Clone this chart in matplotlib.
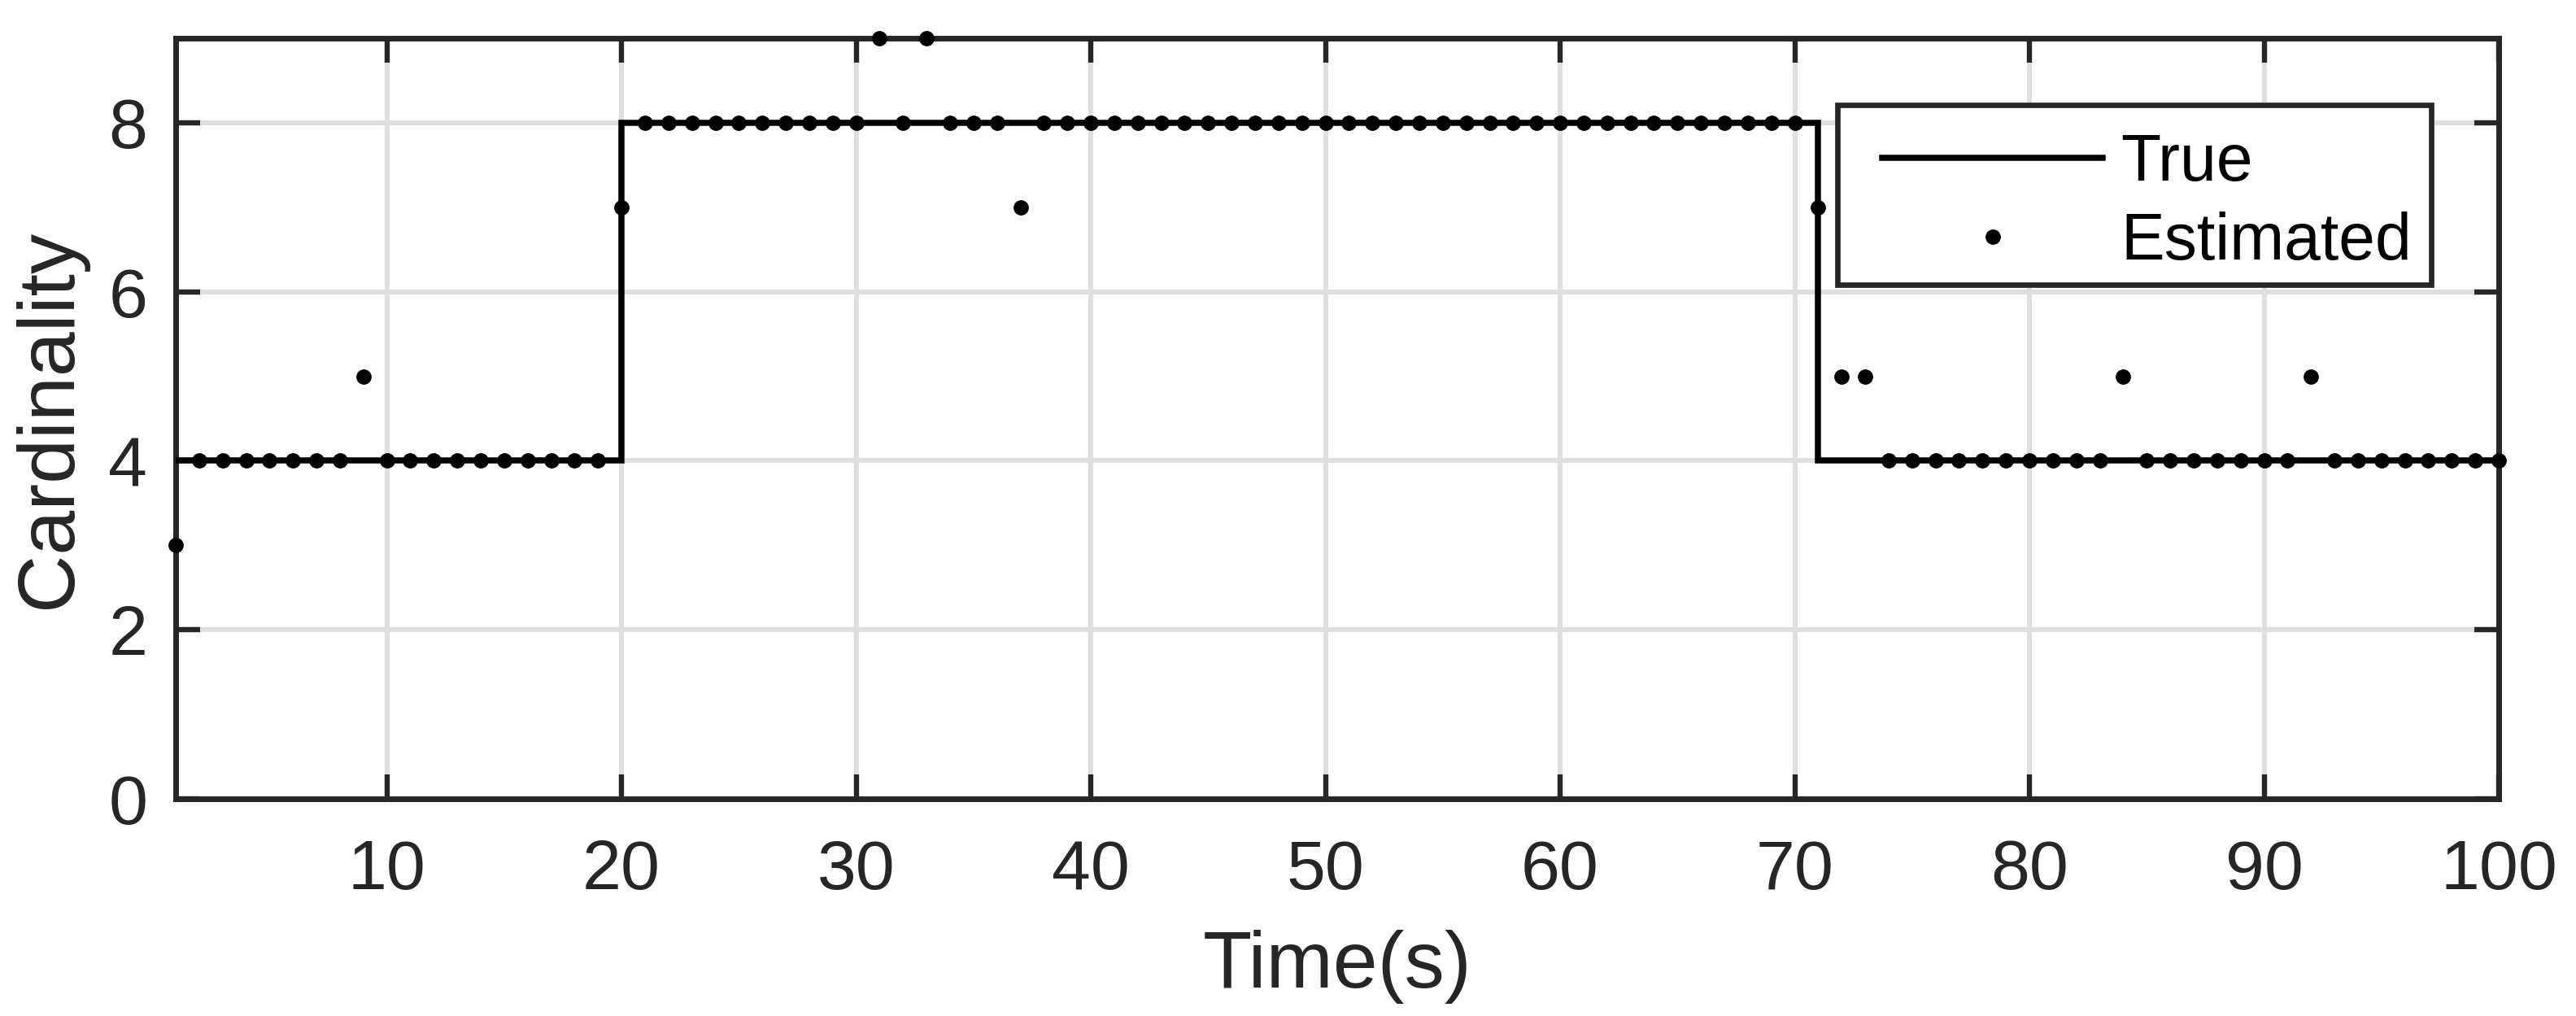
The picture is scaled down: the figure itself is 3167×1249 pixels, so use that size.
import matplotlib
matplotlib.use("Agg")
import matplotlib.pyplot as plt
from matplotlib.lines import Line2D
from matplotlib.patches import Rectangle
from matplotlib.legend_handler import HandlerLine2D

plt.rcParams['font.family'] = ['Liberation Sans', 'DejaVu Sans']

time_s = list(range(1, 101))
true_card = [4, 4, 4, 4, 4, 4, 4, 4, 4, 4, 4, 4, 4, 4, 4, 4, 4, 4, 4,
             8, 8, 8, 8, 8, 8, 8, 8, 8, 8, 8, 8, 8, 8, 8, 8, 8, 8, 8, 8,
             8, 8, 8, 8, 8, 8, 8, 8, 8, 8, 8, 8, 8, 8, 8, 8, 8, 8, 8, 8,
             8, 8, 8, 8, 8, 8, 8, 8, 8, 8, 8,
             4, 4, 4, 4, 4, 4, 4, 4, 4, 4, 4, 4, 4, 4, 4, 4, 4, 4, 4, 4,
             4, 4, 4, 4, 4, 4, 4, 4, 4, 4]
est_card = [3, 4, 4, 4, 4, 4, 4, 4, 5, 4, 4, 4, 4, 4, 4, 4, 4, 4, 4, 7,
            8, 8, 8, 8, 8, 8, 8, 8, 8, 8, 9, 8, 9, 8, 8, 8, 7, 8, 8, 8,
            8, 8, 8, 8, 8, 8, 8, 8, 8, 8, 8, 8, 8, 8, 8, 8, 8, 8, 8, 8,
            8, 8, 8, 8, 8, 8, 8, 8, 8, 8, 7, 5, 5, 4, 4, 4, 4, 4, 4, 4,
            4, 4, 4, 5, 4, 4, 4, 4, 4, 4, 4, 5, 4, 4, 4, 4, 4, 4, 4, 4]
x_ticks = [10, 20, 30, 40, 50, 60, 70, 80, 90, 100]
y_ticks = [0, 2, 4, 6, 8]


class OffsetLineHandler(HandlerLine2D):
    """Line handle that starts a bit to the right inside the handle box."""
    def get_xdata(self, legend, xdescent, ydescent, width, height, fontsize):
        off = width * 29.0 / 302.0
        return [-xdescent + off, -xdescent + width], [-xdescent + off + 0.5 * (width - off)]


W, H, DPI = 3167, 1249, 100
fig = plt.figure(figsize=(W / DPI, H / DPI), dpi=DPI)
ax = fig.add_axes([216 / W, (H - 982) / H, (3072 - 216) / W, (982 - 47) / H])

dark = '#262626'
ax.step(time_s, true_card, where='post', color='black', lw=5.4, zorder=3,
        solid_joinstyle='miter')
ax.plot(time_s, est_card, linestyle='none', marker='o', ms=12.5, color='black',
        zorder=4, clip_on=False)

ax.set_xlim(1, 100)
ax.set_ylim(0, 9)
ax.set_xticks(x_ticks)
ax.set_yticks(y_ticks)
ax.grid(True, color='#dfdfdf', lw=4.3, zorder=0)
ax.set_axisbelow(True)
ax.tick_params(direction='in', length=30 / DPI * 72, width=4.6, colors=dark,
               labelsize=62, top=True, right=True)
ax.tick_params(axis='x', pad=35)
ax.tick_params(axis='y', pad=25)
for s in ax.spines.values():
    s.set_linewidth(5.0)
    s.set_color(dark)

ax.set_xlabel('Time(s)', fontsize=71, color=dark, labelpad=23)
ax.set_ylabel('Cardinality', fontsize=71, color=dark, labelpad=19)

# legend frame (drawn separately so the content can sit slightly low, as in the original)
frame = Rectangle((2259 / W, 1 - 350 / H), (2989 - 2259) / W, (350 - 129) / H,
                  transform=fig.transFigure, facecolor='white', edgecolor=dark,
                  lw=4.8, zorder=10, clip_on=False)
ax.add_artist(frame)

handles = [Line2D([], [], color='black', lw=5.4),
           Line2D([], [], linestyle='none', marker='o', ms=12.5, color='black')]
leg = ax.legend(handles, ['True', 'Estimated'], loc='upper right',
                bbox_to_anchor=(2989 / W, 1 - 139 / H), bbox_transform=fig.transFigure,
                borderaxespad=0, fontsize=58, frameon=False,
                handlelength=3.73, handletextpad=0.27,
                labelspacing=0.26, borderpad=0.3,
                handler_map={Line2D: OffsetLineHandler()})
leg.set_zorder(11)
for t in leg.get_texts():
    t.set_color('black')

fig.savefig('out.png', dpi=DPI)
